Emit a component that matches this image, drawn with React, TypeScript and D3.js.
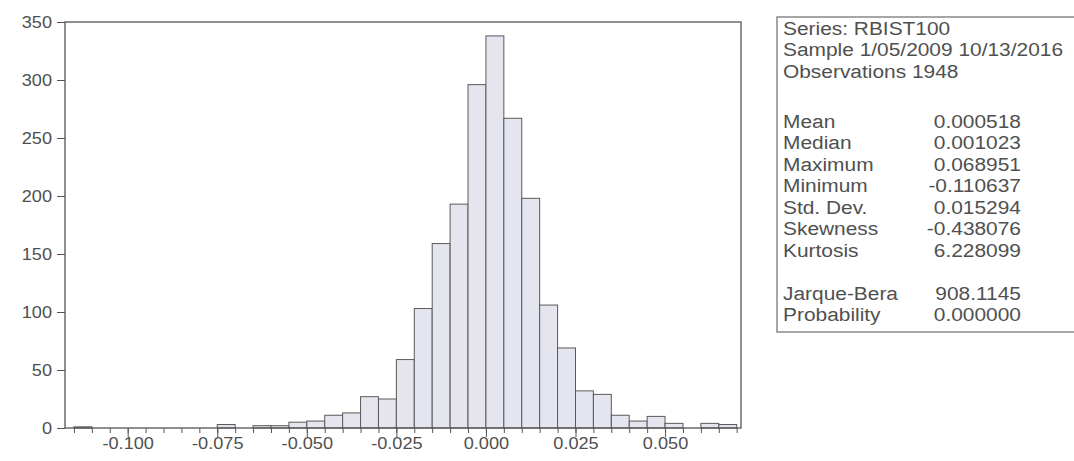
import React from "react";
import * as d3 from "d3";

// histogram bins (lower edge) and frequencies
const binLower = [
  -0.115, -0.11, -0.105, -0.1, -0.095, -0.09, -0.085, -0.08, -0.075, -0.07,
  -0.065, -0.06, -0.055, -0.05, -0.045, -0.04, -0.035, -0.03, -0.025, -0.02,
  -0.015, -0.01, -0.005, 0.0, 0.005, 0.01, 0.015, 0.02, 0.025, 0.03,
  0.035, 0.04, 0.045, 0.05, 0.055, 0.06, 0.065,
];
const counts = [
  1, 0, 0, 0, 0, 0, 0, 0, 3, 0,
  2, 2, 5, 6, 11, 13, 27, 25, 59, 103,
  159, 193, 296, 338, 267, 198, 106, 69, 32, 29,
  11, 6, 10, 4, 0, 4, 3,
];
const BIN_WIDTH = 0.005;

const yTicks = [0, 50, 100, 150, 200, 250, 300, 350];
const xMajorTicks = [-0.1, -0.075, -0.05, -0.025, 0.0, 0.025, 0.05];
const xMinorTicks = [
  -0.115, -0.11, -0.105, -0.1, -0.095, -0.09, -0.085, -0.08, -0.075, -0.07,
  -0.065, -0.06, -0.055, -0.05, -0.045, -0.04, -0.035, -0.03, -0.025, -0.02,
  -0.015, -0.01, -0.005, 0.0, 0.005, 0.01, 0.015, 0.02, 0.025, 0.03,
  0.035, 0.04, 0.045, 0.05, 0.055, 0.06, 0.065, 0.07,
];

// statistics box
const headerLines = ["Series: RBIST100", "Sample 1/05/2009 10/13/2016", "Observations 1948"];
const statNames = ["Mean", "Median", "Maximum", "Minimum", "Std. Dev.", "Skewness", "Kurtosis"];
const statValues = ["0.000518", "0.001023", "0.068951", "-0.110637", "0.015294", "-0.438076", "6.228099"];
const testNames = ["Jarque-Bera", "Probability"];
const testValues = ["908.1145", "0.000000"];

const fmt = d3.formatLocale({
  decimal: ".",
  thousands: ",",
  grouping: [3],
  currency: ["", ""],
  minus: "-",
}).format(".3f");

const TEXT = "#505050";
const LINE = "#555";
const FONT = "'Liberation Sans', Arial, sans-serif";

class App extends React.Component {
  svgRef: React.RefObject<SVGSVGElement>;

  constructor(props: any) {
    super(props);
    this.svgRef = React.createRef();
  }

  componentDidMount() {
    this.renderChart();
  }

  renderChart() {
    const svg = d3.select(this.svgRef.current);
    svg.selectAll("*").remove();

    const plot = { left: 65, right: 741, top: 22, bottom: 428 };

    const x = d3.scaleLinear().domain([-0.1175, 0.0712]).range([plot.left, plot.right]);
    const y = d3.scaleLinear().domain([0, 350]).range([plot.bottom, plot.top]);

    // the scanned original is a little wider than tall
    const stretch = (sel: any, origin: string) =>
      sel
        .style("transform-box", "fill-box")
        .style("transform-origin", origin)
        .style("transform", "scaleX(1.1)");

    // bars
    const bins = binLower.map((b, i) => ({ x0: b, x1: b + BIN_WIDTH, n: counts[i] }));
    svg.append("g")
      .selectAll("rect")
      .data(bins.filter(d => d.n > 0))
      .enter().append("rect")
      .attr("x", d => x(d.x0))
      .attr("y", d => y(d.n))
      .attr("width", d => x(d.x1) - x(d.x0))
      .attr("height", d => y(0) - y(d.n))
      .attr("fill", "#e4e5ee")
      .attr("stroke", "#5a5a5a")
      .attr("stroke-width", 1);

    // y axis
    const yAxis = svg.append("g")
      .attr("transform", `translate(${plot.left},0)`)
      .call(d3.axisLeft(y).tickValues(yTicks).tickSize(8).tickPadding(5).tickFormat(d3.format("d")));
    yAxis.select(".domain").remove();
    yAxis.selectAll("line").attr("stroke", LINE);
    stretch(
      yAxis.selectAll("text")
        .attr("fill", TEXT)
        .style("font-family", FONT)
        .style("font-size", "16.5px"),
      "100% 50%"
    );

    // x axis: minor ticks on every bin edge, labelled major ticks
    const xMinor = svg.append("g")
      .attr("transform", `translate(0,${plot.bottom})`)
      .call(d3.axisBottom(x).tickValues(xMinorTicks).tickSize(5).tickFormat(() => ""));
    xMinor.select(".domain").remove();
    xMinor.selectAll("line").attr("stroke", LINE);

    const xMajor = svg.append("g")
      .attr("transform", `translate(0,${plot.bottom})`)
      .call(d3.axisBottom(x).tickValues(xMajorTicks).tickSize(9).tickPadding(0).tickFormat(d => fmt(d as number)));
    xMajor.select(".domain").remove();
    xMajor.selectAll("line").attr("stroke", LINE);
    stretch(
      xMajor.selectAll("text")
        .attr("fill", TEXT)
        .style("font-family", FONT)
        .style("font-size", "16.5px"),
      "50% 50%"
    );

    // frame
    svg.append("rect")
      .attr("x", plot.left)
      .attr("y", plot.top)
      .attr("width", plot.right - plot.left)
      .attr("height", plot.bottom - plot.top)
      .attr("fill", "none")
      .attr("stroke", LINE)
      .attr("stroke-width", 1.3);

    // stats box
    const box = { left: 777, top: 17, right: 1090, bottom: 332 };
    svg.append("rect")
      .attr("x", box.left)
      .attr("y", box.top)
      .attr("width", box.right - box.left)
      .attr("height", box.bottom - box.top)
      .attr("fill", "none")
      .attr("stroke", "#777")
      .attr("stroke-width", 1.3);

    const labelX = 783;
    const valueX = 1021;
    const step = 21.5;
    const g = svg.append("g")
      .attr("fill", TEXT)
      .style("font-family", FONT)
      .style("font-size", "19px");

    const addText = (str: string, tx: number, ty: number, anchor: string) => {
      const t = g.append("text")
        .attr("x", tx)
        .attr("y", ty)
        .attr("text-anchor", anchor)
        .text(str);
      stretch(t, anchor === "end" ? "100% 50%" : "0% 50%");
    };

    headerLines.forEach((s, i) => addText(s, labelX, 35 + i * step, "start"));
    statNames.forEach((s, i) => {
      addText(s, labelX, 128 + i * step, "start");
      addText(statValues[i], valueX, 128 + i * step, "end");
    });
    testNames.forEach((s, i) => {
      addText(s, labelX, 300 + i * step, "start");
      addText(testValues[i], valueX, 300 + i * step, "end");
    });
  }

  render() {
    return (
      <svg
        ref={this.svgRef}
        width={1074}
        height={461}
        style={{ position: "absolute", left: 0, top: 0, background: "#fff" }}
      />
    );
  }
}

export default App;
